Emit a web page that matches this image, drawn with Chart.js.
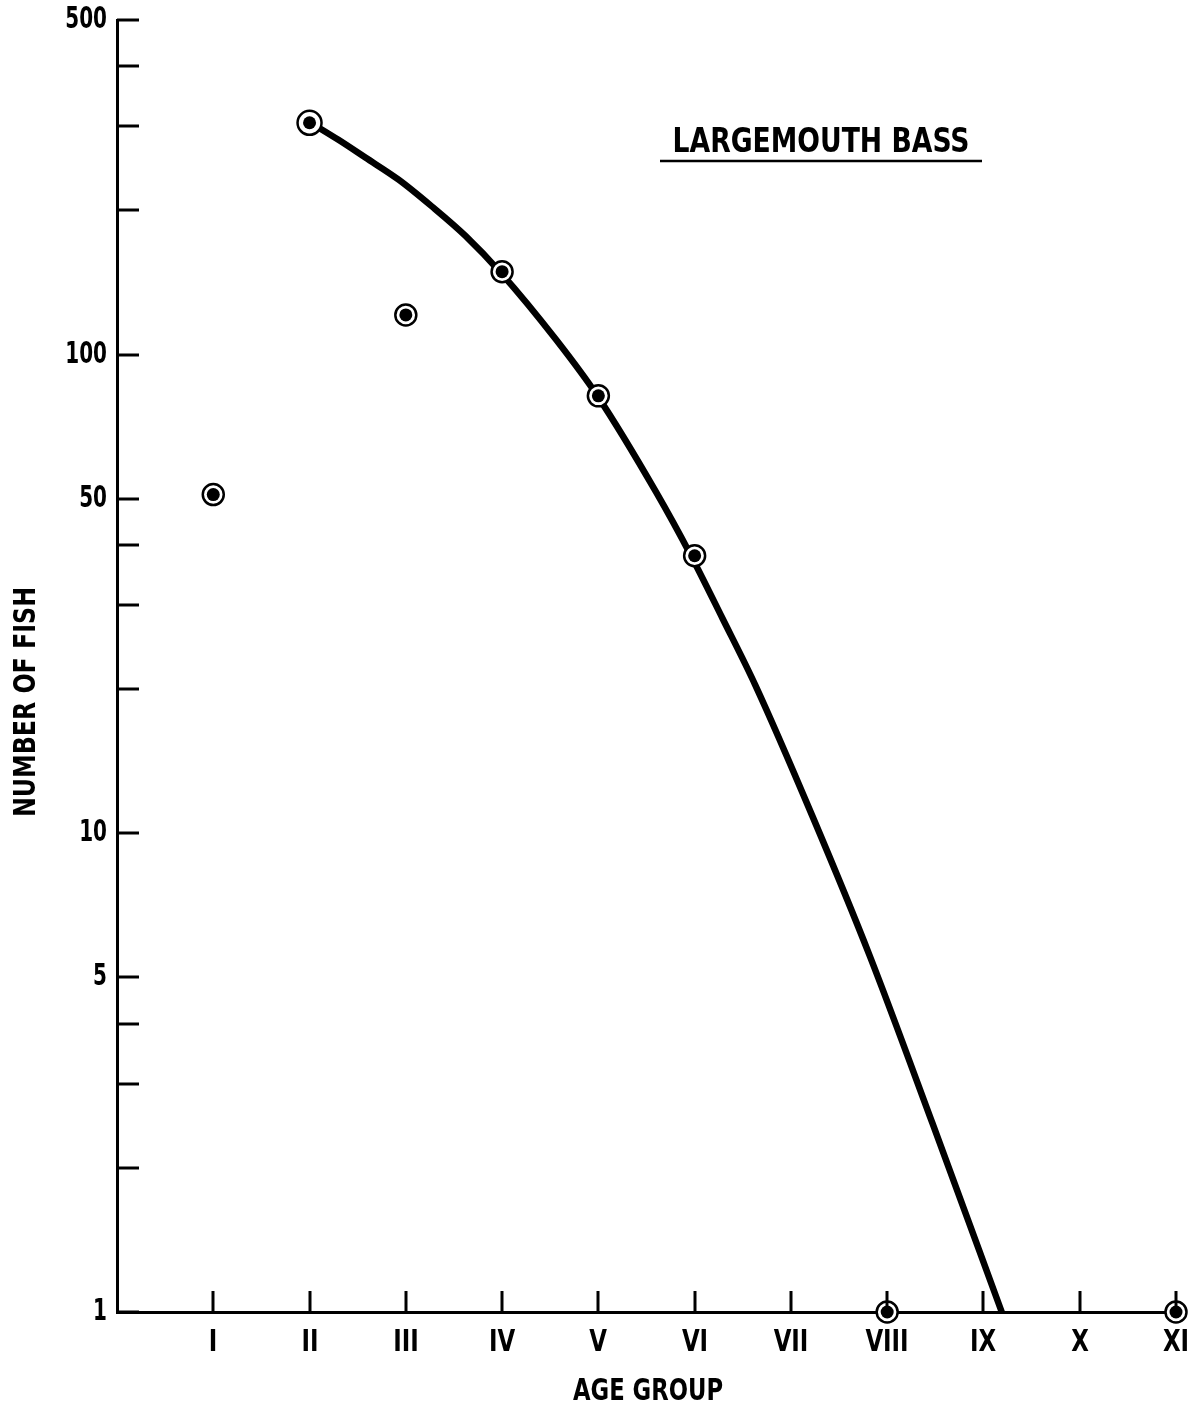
<!DOCTYPE html>
<html>
<head>
    <meta charset="utf-8">
    <title>Largemouth Bass</title>
    <style>
        html, body { margin: 0; padding: 0; background: #fff; }
        .ChartBox { width: 1200px; height: 1409px; }
    </style>
</head>
<body>
    <div class="ChartBox">
        <canvas id="bassChart" width="1200" height="1409"></canvas>
    </div>
    <script src="https://cdn.jsdelivr.net/npm/chart.js"></script>
    <script>
        // age group names on the x axis (1..11)
        const ageLabels = ['I', 'II', 'III', 'IV', 'V', 'VI', 'VII', 'VIII', 'IX', 'X', 'XI'];

        // observed points
        const pointAges = [1, 2, 3, 4, 5, 6, 8, 11];
        const fishCounts = [51, 305, 121, 149, 82, 38, 1, 1];

        // fitted curve
        const curveAges = [2.0, 2.30, 2.58, 2.925, 3.27, 3.62, 3.99, 4.56, 4.99, 5.60, 5.96, 6.29, 6.63, 7.22, 7.82, 8.47, 9.19];
        const curveCounts = [306, 281, 258, 232, 204, 177, 148, 107.5, 82, 51.6, 38.1, 28.1, 20.4, 10.9, 5.54, 2.48, 1];

        // y axis ticks and which of them get a number
        const yTicks = [1, 2, 3, 4, 5, 10, 20, 30, 40, 50, 100, 200, 300, 400, 500];
        const yLabels = [1, 5, 10, 50, 100, 500];

        const FONT = '"DejaVu Sans Condensed", "DejaVu Sans", sans-serif';

        function toXY(xs, ys) {
            return xs.map((x, i) => ({ x: x, y: ys[i] }));
        }

        // hand lettering is narrow: draw text squeezed sideways by sx
        function narrowText(ctx, text, x, y, sx, size, align, baseline) {
            ctx.save();
            ctx.font = 'bold ' + size + 'px ' + FONT;
            ctx.textAlign = align;
            ctx.textBaseline = baseline;
            ctx.translate(x, y);
            ctx.scale(sx, 1);
            ctx.fillText(text, 0, 0);
            ctx.restore();
        }

        // same, but squeezed to a given width
        function fitText(ctx, text, x, y, width, size) {
            ctx.save();
            ctx.font = 'bold ' + size + 'px ' + FONT;
            const w = ctx.measureText(text).width;
            ctx.restore();
            narrowText(ctx, text, x, y, width / w, size, 'center', 'alphabetic');
        }

        // inside tick marks, tick labels, axis titles and the underlined title
        const decorations = {
            id: 'decorations',
            afterDraw(chart) {
                const ctx = chart.ctx;
                const xs = chart.scales.x;
                const ys = chart.scales.y;
                const area = chart.chartArea;
                ctx.save();
                ctx.strokeStyle = '#000';
                ctx.fillStyle = '#000';
                ctx.lineWidth = 3;
                ctx.lineCap = 'butt';
                // y ticks point inward, numbers on the left
                yTicks.forEach(v => {
                    const py = Math.round(ys.getPixelForValue(v));
                    ctx.beginPath();
                    ctx.moveTo(area.left, py);
                    ctx.lineTo(area.left + 22, py);
                    ctx.stroke();
                    if (yLabels.includes(v)) {
                        narrowText(ctx, String(v), area.left - 10, py, 0.74, 30, 'right', 'middle');
                    }
                });
                // x ticks point upward, roman numerals below
                ageLabels.forEach((lab, i) => {
                    const px = Math.round(xs.getPixelForValue(i + 1));
                    ctx.beginPath();
                    ctx.moveTo(px, area.bottom);
                    ctx.lineTo(px, area.bottom - 21);
                    ctx.stroke();
                    narrowText(ctx, lab, px, 1351, 0.82, 31, 'center', 'alphabetic');
                });

                // chart title with underline
                fitText(ctx, 'LARGEMOUTH BASS', 821, 152, 297, 33);
                ctx.lineWidth = 2.5;
                ctx.beginPath();
                ctx.moveTo(660, 161);
                ctx.lineTo(982, 161);
                ctx.stroke();

                // axis titles
                fitText(ctx, 'AGE GROUP', 648, 1400, 150, 30);
                ctx.translate(35, 702);
                ctx.rotate(-Math.PI / 2);
                fitText(ctx, 'NUMBER OF FISH', 0, 0, 230, 30);
                ctx.restore();
            }
        };

        const ctx = document.getElementById('bassChart');
        const bassChart = new Chart(ctx, {
            type: 'scatter',
            data: {
                datasets: [
                    {
                        label: 'dots',
                        data: toXY(pointAges, fishCounts),
                        pointRadius: 6.5,
                        pointBackgroundColor: '#000',
                        pointBorderWidth: 0,
                        clip: false,
                        order: 1
                    },
                    {
                        label: 'rings',
                        data: toXY(pointAges, fishCounts),
                        pointRadius: [10.5, 12, 10.5, 10.5, 10.5, 10.5, 10.5, 10.5],
                        pointBackgroundColor: '#fff',
                        pointBorderColor: '#000',
                        pointBorderWidth: 2.5,
                        clip: false,
                        order: 2
                    },
                    {
                        label: 'curve',
                        type: 'line',
                        data: toXY(curveAges, curveCounts),
                        borderColor: '#000',
                        borderWidth: 6.5,
                        pointRadius: 0,
                        cubicInterpolationMode: 'monotone',
                        fill: false,
                        clip: false,
                        order: 3
                    }
                ]
            },
            options: {
                responsive: false,
                animation: false,
                layout: { padding: { left: 0, right: 24, top: 20, bottom: 0 } },
                plugins: {
                    legend: { display: false },
                    tooltip: { enabled: false }
                },
                scales: {
                    x: {
                        type: 'linear',
                        min: 0,
                        max: 11,
                        afterBuildTicks: scale => {
                            scale.ticks = ageLabels.map((l, i) => ({ value: i + 1 }));
                        },
                        afterFit: scale => {
                            scale.height = 97;
                            scale.paddingLeft = 0;
                            scale.paddingRight = 0;
                        },
                        ticks: { display: false },
                        grid: { display: true, drawOnChartArea: false, drawTicks: false },
                        border: { display: true, color: '#000', width: 3 }
                    },
                    y: {
                        type: 'logarithmic',
                        min: 1,
                        max: 500,
                        afterBuildTicks: scale => {
                            scale.ticks = yTicks.map(v => ({ value: v }));
                        },
                        afterFit: scale => {
                            scale.width = 117;
                            scale.paddingTop = 0;
                            scale.paddingBottom = 0;
                        },
                        ticks: { display: false },
                        grid: { display: true, drawOnChartArea: false, drawTicks: false },
                        border: { display: true, color: '#000', width: 3 }
                    }
                }
            },
            plugins: [decorations]
        });
    </script>
</body>
</html>
